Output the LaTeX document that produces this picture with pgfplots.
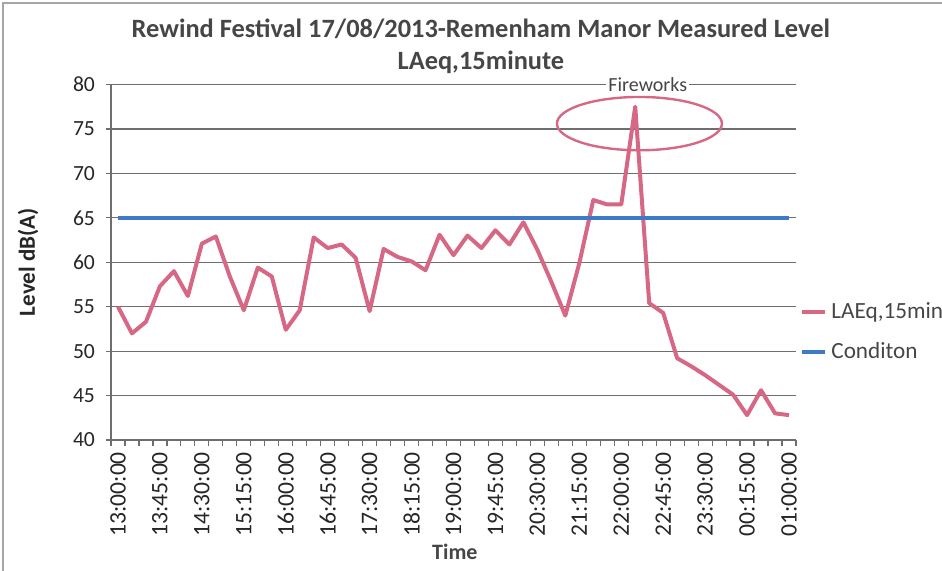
\documentclass[border=0pt]{standalone}
\usepackage{fontspec}
\setmainfont{Carlito}
\usepackage{pgfplots}
\pgfplotsset{compat=1.18}

\definecolor{lineRed}{RGB}{214,104,134}
\definecolor{lineBlue}{RGB}{62,122,200}
\definecolor{gridGrey}{RGB}{110,110,110}
\definecolor{textGrey}{RGB}{70,70,70}

\begin{document}
\begin{tikzpicture}
\begin{axis}[
  scale only axis,
  width=342.5pt, height=177.75pt,
  xmin=-0.5, xmax=48.5,
  ymin=40, ymax=80,
  clip=false,
  ytick={40,45,...,80},
  xtick={0,3,...,48},
  xticklabels={13:00:00,13:45:00,14:30:00,15:15:00,16:00:00,16:45:00,17:30:00,18:15:00,19:00:00,19:45:00,20:30:00,21:15:00,22:00:00,22:45:00,23:30:00,00:15:00,01:00:00},
  minor xtick={-0.5,0.5,...,48.5},
  major x tick style={draw=none},
  minor tick length=3pt,
  major tick length=2.5pt,
  tick align=outside,
  xtick pos=bottom, ytick pos=left,
  axis x line*=bottom, axis y line*=left,
  axis line style={gridGrey, line width=0.8pt},
  tick style={gridGrey, line width=0.6pt},
  ymajorgrids, grid style={gridGrey, line width=0.6pt},
  /pgf/number format/assume math mode=true,
  tick label style={text=black!85},
  xticklabel style={rotate=90, anchor=east, font=\fontsize{11.8}{13}\selectfont},
  yticklabel style={xshift=-2pt, font=\fontsize{10.8}{12}\selectfont},
  title={Rewind Festival 17/08/2013-Remenham Manor Measured Level\\LAeq,15minute},
  title style={at={(axis description cs:0.54,1.075)}, anchor=center, align=center,
    font=\bfseries\fontsize{13.2}{16}\selectfont, text=textGrey},
  xlabel={Time},
  xlabel style={at={(axis description cs:0.502,-0.315)}, anchor=center,
    font=\bfseries\fontsize{11}{12}\selectfont, text=textGrey},
  ylabel={Level dB(A)},
  ylabel style={at={(axis description cs:-0.121,0.5)}, anchor=center, rotate=0,
    font=\bfseries\fontsize{11.5}{12}\selectfont, text=black!85},
  legend style={at={(axis description cs:1,0.305)}, anchor=west, draw=none, fill=none,
    font=\fontsize{11.6}{13}\selectfont, row sep=6.5pt, inner xsep=0pt, xshift=2pt,
    cells={anchor=west, text=textGrey}},
  legend image code/.code={\draw[#1] (0pt,0pt) -- (11.5pt,0pt);},
]
\addplot[lineRed, line width=2pt, line join=round] coordinates {
(0,55.0) (1,52.0) (2,53.3) (3,57.3) (4,59.0) (5,56.2) (6,62.1) (7,62.9)
(8,58.4) (9,54.6) (10,59.4) (11,58.4) (12,52.4) (13,54.6) (14,62.8) (15,61.6)
(16,62.0) (17,60.5) (18,54.5) (19,61.5) (20,60.6) (21,60.1) (22,59.1) (23,63.1)
(24,60.8) (25,63.0) (26,61.6) (27,63.6) (28,62.0) (29,64.5) (30,61.4) (31,57.8)
(32,54.0) (33,59.9) (34,67.0) (35,66.5) (36,66.5) (37,77.5) (38,55.4) (39,54.3)
(40,49.2) (41,48.3) (42,47.3) (43,46.2) (44,45.1) (45,42.8) (46,45.6) (47,43.0)
(48,42.8)};
\addlegendentry{LAEq,15min}
\addplot[lineBlue, line width=2pt] coordinates {(0,65) (48,65)};
\addlegendentry{Conditon}
\draw[lineRed, line width=1.2pt] (axis cs:37.3,75.6) ellipse [x radius=5.9, y radius=3.0];
\node[fill=white, inner sep=1pt, text=textGrey, font=\fontsize{10}{12}\selectfont]
  at (axis cs:37.9,80) {Fireworks};
\end{axis}
\draw[black!35, line width=0.6pt] (-54pt,-70pt) -- (-54pt,218.5pt) -- (420pt,218.5pt);
\pgfresetboundingbox
\path[use as bounding box] (-55.5pt,-65pt) rectangle (415.5pt,220pt);
\end{tikzpicture}
\end{document}
